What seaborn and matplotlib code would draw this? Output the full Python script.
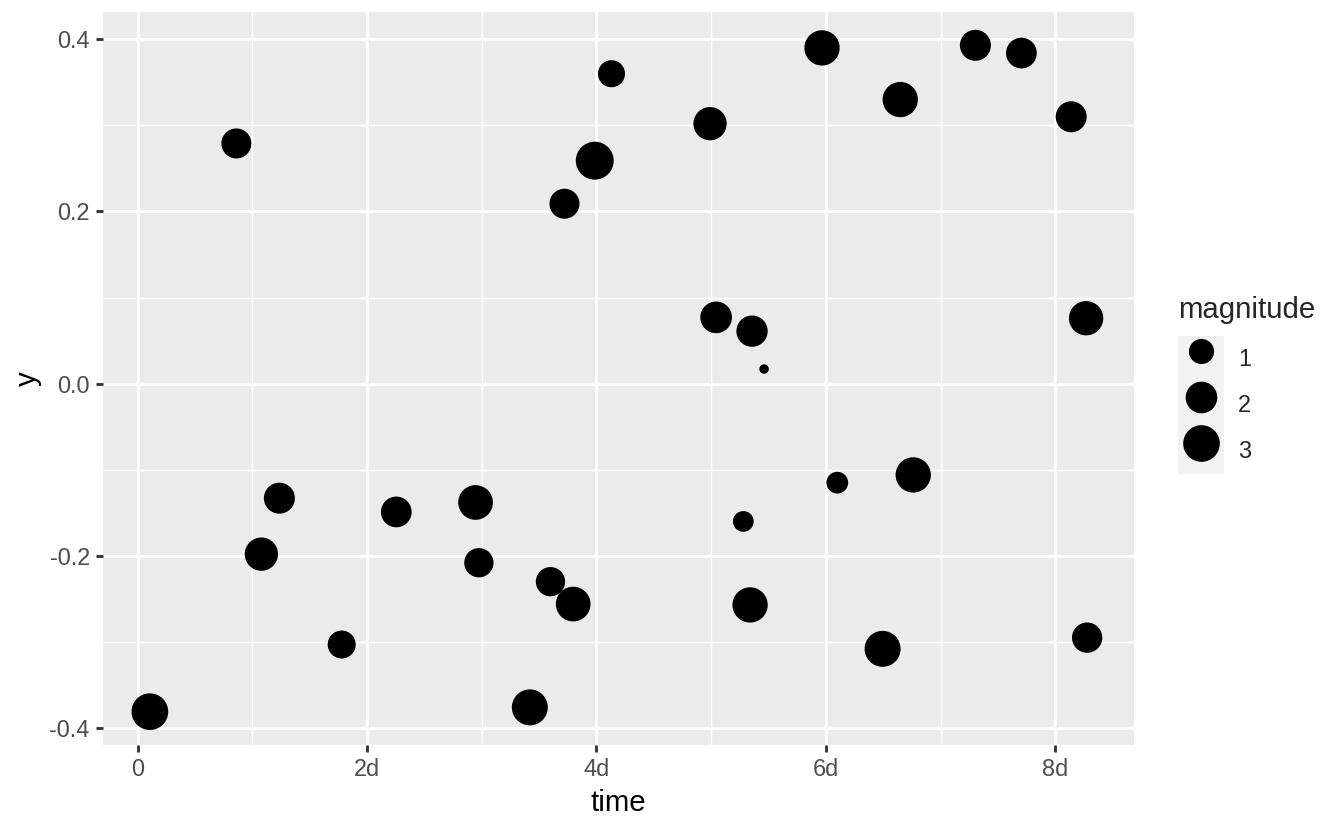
import numpy as np
import pandas as pd
import matplotlib
matplotlib.use("Agg")
import matplotlib.pyplot as plt
from matplotlib.lines import Line2D
from matplotlib.patches import Patch
from matplotlib.legend_handler import HandlerTuple
from matplotlib.ticker import FixedLocator, MultipleLocator
import seaborn as sns

# values (time in days)
time_days = [0.107, 0.861, 1.079, 1.236, 1.779, 2.255, 2.946, 2.975, 3.419, 3.599,
             3.721, 3.797, 3.985, 4.131, 4.990, 5.043, 5.280, 5.339, 5.356, 5.461,
             5.966, 6.099, 6.494, 6.648, 6.761, 7.303, 7.704, 8.138, 8.268, 8.277]
y_values = [-0.381, 0.279, -0.198, -0.133, -0.303, -0.149, -0.138, -0.208, -0.376, -0.230,
            0.209, -0.256, 0.259, 0.360, 0.302, 0.077, -0.160, -0.257, 0.061, 0.017,
            0.390, -0.115, -0.308, 0.330, -0.106, 0.393, 0.384, 0.310, 0.076, -0.295]
magnitude = [3.01, 1.72, 2.31, 1.89, 1.40, 1.84, 2.59, 1.60, 2.86, 1.60,
             1.72, 2.59, 3.29, 1.26, 2.31, 2.01, 0.52, 2.71, 1.94, 0.01,
             2.71, 0.62, 2.86, 2.71, 2.71, 1.89, 1.84, 1.89, 2.51, 1.77]

x_ticks = [0, 2, 4, 6, 8]
x_tick_labels = ["0", "2d", "4d", "6d", "8d"]
y_ticks = [-0.4, -0.2, 0.0, 0.2, 0.4]
y_tick_labels = ["-0.4", "-0.2", "0.0", "0.2", "0.4"]
legend_values = [1, 2, 3]

df = pd.DataFrame({"time": time_days, "y": y_values, "magnitude": magnitude})

m_min, m_max = min(magnitude), max(magnitude)


def point_diameter(m):
    """ggplot-like size scale (area_pal range 1..6), diameter in points."""
    r = (m - m_min) / (m_max - m_min)
    size = 1 + 5 * np.sqrt(max(r, 0))
    fontsize = size * 2.845 + 0.945
    return 0.75 * fontsize + 0.71


size_lookup = {m: point_diameter(m) ** 2 for m in set(magnitude)}

sns.set_style("darkgrid", {"axes.facecolor": "#EBEBEB", "grid.color": "white"})
plt.rcParams["font.family"] = ["Liberation Sans", "DejaVu Sans"]

fig = plt.figure(figsize=(7, 830 / 192), dpi=192)
ax = fig.add_axes([103 / 1344, 85 / 830, 1031 / 1344, 733 / 830])

sns.scatterplot(data=df, x="time", y="y", size="magnitude", sizes=size_lookup,
                color="black", linewidth=0, legend=False, ax=ax, zorder=3)

xr = max(time_days) - min(time_days)
yr = max(y_values) - min(y_values)
ax.set_xlim(min(time_days) - 0.05 * xr, max(time_days) + 0.05 * xr)
ax.set_ylim(min(y_values) - 0.05 * yr, max(y_values) + 0.05 * yr)

ax.xaxis.set_major_locator(FixedLocator(x_ticks))
ax.set_xticklabels(x_tick_labels)
ax.yaxis.set_major_locator(FixedLocator(y_ticks))
ax.set_yticklabels(y_tick_labels)
ax.xaxis.set_minor_locator(MultipleLocator(1))
ax.yaxis.set_minor_locator(MultipleLocator(0.1))

ax.grid(which="major", color="white", linewidth=1.07)
ax.grid(which="minor", color="white", linewidth=0.53)
ax.set_axisbelow(True)
for s in ax.spines.values():
    s.set_visible(False)

ax.tick_params(which="major", length=2.75, width=1.07, color="#333333",
               labelsize=8.8, labelcolor="#4D4D4D", pad=2.2)
ax.tick_params(which="minor", length=0)
ax.tick_params(axis="x", bottom=True)
ax.tick_params(axis="y", left=True)

ax.set_xlabel("time", fontsize=11, color="black", labelpad=2.75)
ax.set_ylabel("y", fontsize=11, color="black", labelpad=2.75)

# legend: grey key boxes with the size-scaled dots on top
handles = [(Patch(facecolor="#F2F2F2", edgecolor="none"),
            Line2D([], [], marker="o", linestyle="", color="black",
                   markersize=point_diameter(v), markeredgewidth=0))
           for v in legend_values]
leg = fig.legend(handles, [str(v) for v in legend_values],
                 handler_map={tuple: HandlerTuple(ndivide=1, pad=0)},
                 title="magnitude", title_fontsize=11, fontsize=8.8,
                 loc="upper left", bbox_to_anchor=(1178 / 1344, 1 - 296 / 830),
                 frameon=False, borderpad=0, borderaxespad=0, labelspacing=0,
                 handlelength=1.96, handleheight=2.64, handletextpad=0.6,
                 alignment="left")
leg._legend_box.sep = 4.5

fig.savefig("out.png", dpi=192)
